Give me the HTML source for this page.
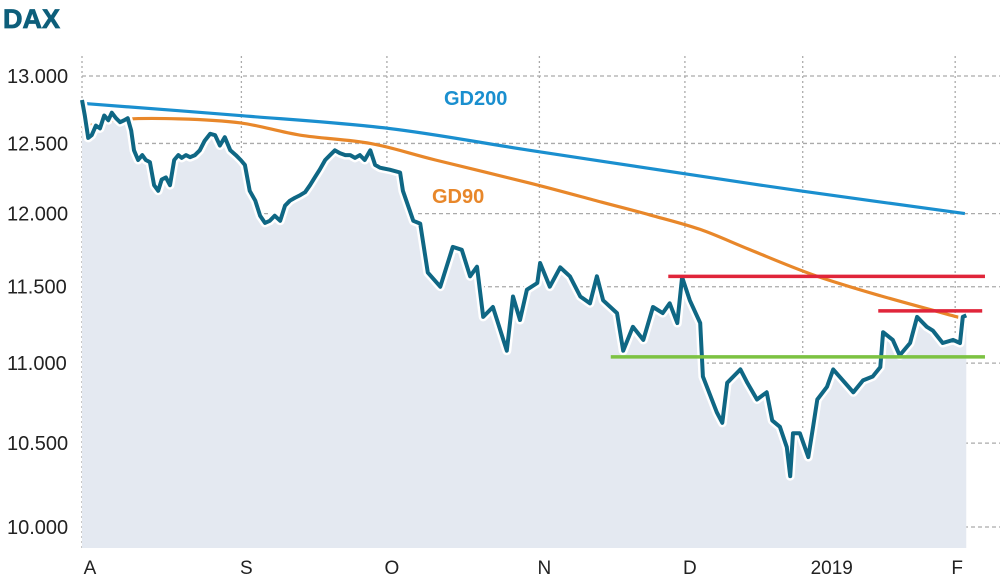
<!DOCTYPE html>
<html><head><meta charset="utf-8"><style>
html,body{margin:0;padding:0;background:#fff;}
svg{display:block;font-family:"Liberation Sans","DejaVu Sans",sans-serif;}
</style></head><body>
<svg id="chart" width="1000" height="581" viewBox="0 0 1000 581">
<text x="3" y="28" font-size="27" font-weight="bold" fill="#0d5e7a" stroke="#0d5e7a" stroke-width="0.8">DAX</text>
<g id="grid"></g>
<path id="area" fill="#e4e9f1"></path>
<g id="ylabels"></g>
<g id="xlabels"></g>
<g id="series"></g>
<text x="444" y="105" font-size="20" font-weight="bold" fill="#1a8fcf">GD200</text>
<text x="432" y="203" font-size="20" font-weight="bold" fill="#e8872a">GD90</text>
</svg>
<script>
const yTicks=[13000,12500,12000,11500,11000,10500,10000];
const yTickLabels=["13.000","12.500","12.000","11.500","11.000","10.500","10.000"];
const xTickIdx=[0,23,44,66,87,104,126];
const xTickLabels=["A","S","O","N","D","2019","F"];
const daxDays=[0,0.4,0.9,1.4,2.0,2.6,3.2,3.8,4.3,4.9,5.5,6.1,6.6,7.1,7.5,8.1,8.7,9.2,9.8,10.4,11.0,11.5,12.1,12.7,13.3,13.9,14.4,15.0,15.6,16.3,17.0,17.7,18.5,19.2,19.9,20.6,21.4,22.2,22.9,23.5,24.2,25.0,25.7,26.4,27.1,27.8,28.6,29.3,30.0,30.7,31.5,32.2,32.9,33.6,34.3,35.1,35.8,36.5,37.2,38.0,38.7,39.4,40.1,40.8,41.6,42.3,43.0,44.4,45.9,46.3,47.8,48.8,49.9,51.7,53.5,54.8,56.0,57.0,57.9,59.3,61.3,62.2,63.2,64.2,65.7,66.1,67.5,69.0,70.4,71.9,73.3,74.3,75.2,77.2,78.1,79.5,81.0,82.4,83.8,84.8,85.9,86.6,87.7,89.2,89.6,91.6,92.4,93.1,95.0,96.0,97.4,98.8,99.6,100.7,101.7,102.2,102.6,103.6,104.8,105.5,106.1,107.5,108.4,109.8,111.3,112.7,114.1,115.2,115.6,117.0,118.0,119.5,120.5,121.9,122.8,124.2,125.7,126.7,127.1,127.6];
const daxValues=[12820,12705,12540,12560,12630,12610,12705,12670,12725,12685,12655,12670,12685,12594,12450,12380,12415,12380,12365,12200,12160,12240,12255,12200,12380,12415,12395,12415,12400,12415,12450,12520,12570,12560,12485,12545,12450,12415,12380,12345,12160,12090,11985,11935,11950,11985,11950,12055,12090,12110,12130,12150,12200,12255,12310,12380,12415,12450,12430,12415,12415,12395,12415,12380,12450,12345,12325,12310,12290,12160,11950,11930,11595,11500,11770,11750,11570,11635,11300,11365,11080,11435,11280,11480,11525,11660,11500,11630,11570,11435,11390,11570,11410,11325,11080,11235,11150,11365,11325,11390,11260,11565,11410,11260,10915,10690,10625,10875,10960,10875,10770,10815,10640,10600,10475,10300,10560,10560,10415,10600,10770,10850,10960,10890,10815,10890,10915,10975,11200,11150,11050,11130,11300,11235,11210,11130,11150,11130,11300,11310];
const gd200Days=[0,22.6,44.2,64.6,89.2,103.6,127.4];
const gd200Values=[12795,12705,12610,12450,12265,12160,12000];
const gd90Days=[0,5.5,14,22.9,31.5,41.6,51,64.6,75,82,89.2,96.4,105.5,115.2,127.1];
const gd90Values=[12615,12675,12680,12650,12560,12500,12380,12215,12080,11990,11890,11750,11580,11440,11290];
const levelValues=[11570,11340,11040];
const levelStart=[84.6,114.9,76.3];
const levelEnd=[130.3,129.9,130.3];
const levelNames=["resistance-upper","resistance-lower","support-line"];
const levelColors=["#e0253a","#e0253a","#7cc242"];

const NS="http://www.w3.org/2000/svg";
const X0=82,DX=6.93,Y0=527,K=1719,BOTTOM=548;
const xS=i=>X0+i*DX;
const yS=v=>Y0-Math.log(v/10000)*K;
function mk(tag,attrs,parent){const e=document.createElementNS(NS,tag);for(const k in attrs)e.setAttribute(k,attrs[k]);parent.appendChild(e);return e;}
const grid=document.getElementById('grid');
yTicks.forEach((v,k)=>{
  const l=mk('line',{x1:X0,x2:1000,y1:yS(v),y2:yS(v),stroke:'#aaa','stroke-width':1.3,'stroke-dasharray':'4,3'},grid);
  
  
  const t=mk('text',{x:7,y:yS(v)+7,'font-size':20,fill:'#222'},document.getElementById('ylabels'));
  t.textContent=yTickLabels[k];
  
  
});
xTickIdx.forEach((d,k)=>{
  const l=mk('line',{x1:xS(d),x2:xS(d),y1:56,y2:BOTTOM,stroke:'#aaa','stroke-width':1.3,'stroke-dasharray':'2,3'},grid);
  
  
  const t=mk('text',{x:xS(d)+(k==5?29:k==0?8:k==6?2:5),y:574,'font-size':19,fill:'#222','text-anchor':'middle'},document.getElementById('xlabels'));
  t.textContent=xTickLabels[k];
  
  
});
function linePath(days,vals){return days.map((d,i)=>(i?'L':'M')+xS(d).toFixed(1)+','+yS(vals[i]).toFixed(1)).join('');}
function smoothPath(days,vals){
  const p=days.map((d,i)=>[xS(d),yS(vals[i])]);
  let s='M'+p[0][0]+','+p[0][1];
  for(let i=0;i<p.length-1;i++){
    const p0=p[Math.max(0,i-1)],p1=p[i],p2=p[i+1],p3=p[Math.min(p.length-1,i+2)];
    const c1=[p1[0]+(p2[0]-p0[0])/6,p1[1]+(p2[1]-p0[1])/6];
    const c2=[p2[0]-(p3[0]-p1[0])/6,p2[1]-(p3[1]-p1[1])/6];
    s+='C'+c1.join(',')+' '+c2.join(',')+' '+p2.join(',');
  }
  return s;
}
const daxD=linePath(daxDays,daxValues);
const last=daxDays.length-1;
document.getElementById('area').setAttribute('d',daxD+'L'+xS(daxDays[last])+','+BOTTOM+'L'+xS(0)+','+BOTTOM+'Z');
const ser=document.getElementById('series');
const g2=mk('path',{d:smoothPath(gd200Days,gd200Values),fill:'none',stroke:'#1a8fcf','stroke-width':3.2},ser);


const g9=mk('path',{d:smoothPath(gd90Days,gd90Values),fill:'none',stroke:'#e8872a','stroke-width':3.2},ser);


const halo=mk('path',{d:daxD,fill:'none',stroke:'#fff','stroke-width':9,'stroke-linejoin':'round'},ser);


const dl=mk('path',{d:daxD,fill:'none',stroke:'#0f6784','stroke-width':4,'stroke-linejoin':'round'},ser);


levelValues.forEach((v,k)=>{
  const l=mk('line',{x1:xS(levelStart[k]),x2:xS(levelEnd[k]),y1:yS(v),y2:yS(v),stroke:levelColors[k],'stroke-width':3.5},ser);
  
  
});
</script>
</body></html>
